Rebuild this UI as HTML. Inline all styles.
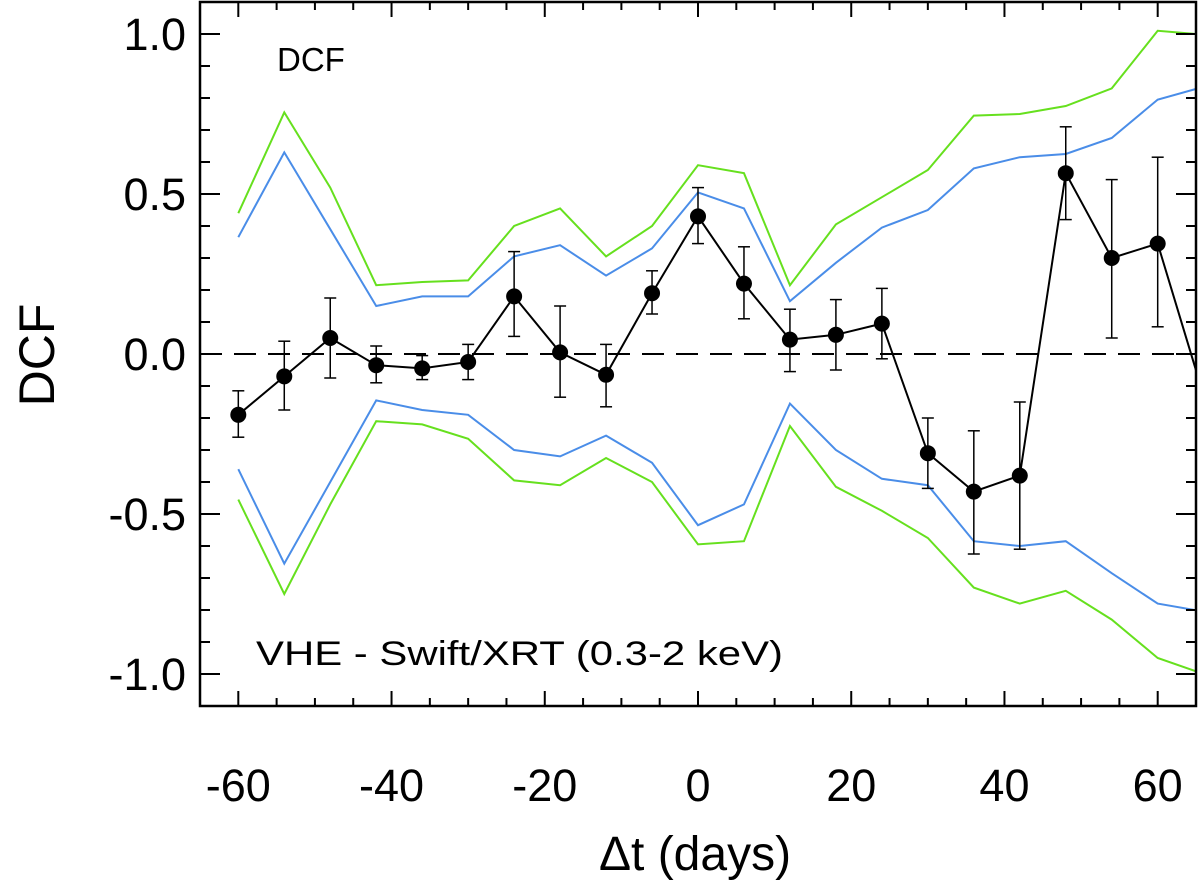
<!DOCTYPE html>
<html><head><meta charset="utf-8"><style>
body{margin:0;background:#fff}
svg text{font-family:"Liberation Sans",Arial,sans-serif;fill:#000}
</style></head><body>
<svg id="chart" width="1200" height="882" viewBox="0 0 1200 882" xmlns="http://www.w3.org/2000/svg"></svg>
<script>
const lags = [-60,-54,-48,-42,-36,-30,-24,-18,-12,-6,0,6,12,18,24,30,36,42,48,54,60,66];
const dcf = [-0.19,-0.07,0.05,-0.035,-0.045,-0.025,0.18,0.005,-0.065,0.19,0.43,0.22,0.045,0.06,0.095,-0.31,-0.43,-0.38,0.565,0.3,0.345,-0.13];
const errHi = [-0.115,0.04,0.175,0.025,-0.005,0.03,0.32,0.15,0.03,0.26,0.52,0.335,0.14,0.17,0.205,-0.2,-0.24,-0.15,0.71,0.545,0.615,-0.13];
const errLo = [-0.26,-0.175,-0.075,-0.09,-0.08,-0.08,0.055,-0.135,-0.165,0.125,0.345,0.11,-0.055,-0.05,-0.015,-0.42,-0.625,-0.61,0.42,0.05,0.085,-0.13];
const greenUp = [0.44,0.755,0.52,0.215,0.225,0.23,0.4,0.455,0.305,0.4,0.59,0.565,0.215,0.405,0.49,0.575,0.745,0.75,0.775,0.83,1.01,0.998];
const blueUp = [0.365,0.63,0.39,0.15,0.18,0.18,0.305,0.34,0.245,0.33,0.505,0.455,0.165,0.285,0.395,0.45,0.58,0.615,0.625,0.675,0.795,0.835];
const blueLo = [-0.36,-0.655,-0.4,-0.145,-0.175,-0.19,-0.3,-0.32,-0.255,-0.34,-0.535,-0.47,-0.155,-0.3,-0.39,-0.41,-0.585,-0.6,-0.585,-0.685,-0.78,-0.805];
const greenLo = [-0.455,-0.75,-0.47,-0.21,-0.22,-0.265,-0.395,-0.41,-0.325,-0.4,-0.595,-0.585,-0.225,-0.415,-0.49,-0.575,-0.73,-0.78,-0.74,-0.83,-0.95,-1.0];
const xTicks = [-60,-40,-20,0,20,40,60];
const yTicks = [-1.0,-0.5,0.0,0.5,1.0];

const L=200,R=1196,T=2,B=706, xmin=-65,xmax=65,ymin=-1.1,ymax=1.1;
const X=v=>L+(v-xmin)/(xmax-xmin)*(R-L);
const Y=v=>B-(v-ymin)/(ymax-ymin)*(B-T);
const svg=document.getElementById('chart');
const NS='http://www.w3.org/2000/svg';
function mk(tag,attrs,parent){const e=document.createElementNS(NS,tag);for(const k in attrs)e.setAttribute(k,attrs[k]);(parent||svg).appendChild(e);return e;}

const defs=mk('defs',{});
const cp=mk('clipPath',{id:'clip'},defs);
mk('rect',{x:L,y:T,width:R-L,height:B-T},cp);
const plot=mk('g',{'clip-path':'url(#clip)'});



const zl=mk('line',{x1:L,x2:R,y1:Y(0),y2:Y(0),stroke:'#000','stroke-width':2,'stroke-dasharray':'22,12'},plot);



function poly(vals,color,name){
  const p=mk('polyline',{points:vals.map((v,i)=>X(lags[i])+','+Y(v)).join(' '),fill:'none',stroke:color,'stroke-width':2},plot);
  
  
}
poly(greenUp,'#66e01e','green-upper-confidence');
poly(blueUp,'#4a8de8','blue-upper-confidence');
poly(blueLo,'#4a8de8','blue-lower-confidence');
poly(greenLo,'#66e01e','green-lower-confidence');
poly(dcf,'#000','dcf-line');

lags.forEach((t,i)=>{
  if(t>xmax) return;
  const x=X(t);
  const g=mk('g',{},plot);
  
  
  mk('line',{x1:x,x2:x,y1:Y(errHi[i]),y2:Y(errLo[i]),stroke:'#000','stroke-width':1.5},g);
  mk('line',{x1:x-6,x2:x+6,y1:Y(errHi[i]),y2:Y(errHi[i]),stroke:'#000','stroke-width':1.5},g);
  mk('line',{x1:x-6,x2:x+6,y1:Y(errLo[i]),y2:Y(errLo[i]),stroke:'#000','stroke-width':1.5},g);
  mk('circle',{cx:x,cy:Y(dcf[i]),r:8,fill:'#000'},g);
});

const ax=mk('g',{});


mk('rect',{x:L,y:T,width:R-L,height:B-T,fill:'none',stroke:'#000','stroke-width':2.5},ax);
for(let v=-65;v<=65;v+=5){
  const x=X(v), major=v%20===0, len=major?15:8;
  mk('line',{x1:x,x2:x,y1:B,y2:B-len,stroke:'#000','stroke-width':2},ax);
  mk('line',{x1:x,x2:x,y1:T,y2:T+len,stroke:'#000','stroke-width':2},ax);
}
for(let k=-11;k<=11;k++){
  const v=k/10, y=Y(v), major=k%5===0, len=major?20:10;
  mk('line',{x1:L,x2:L+len,y1:y,y2:y,stroke:'#000','stroke-width':2},ax);
  mk('line',{x1:R,x2:R-len,y1:y,y2:y,stroke:'#000','stroke-width':2},ax);
}
xTicks.forEach(v=>{
  const t=mk('text',{x:X(v),y:801,'font-size':45,'text-anchor':'middle'});
  t.textContent=String(v);
  
  
});
yTicks.forEach(v=>{
  const t=mk('text',{x:186,y:Y(v)+16,'font-size':45,'text-anchor':'end'});
  t.textContent=v.toFixed(1);
  
  
});
</script>
<svg style="position:absolute;left:0;top:0" width="1200" height="882">
<text x="277" y="71" font-size="33" style="font-family:'Liberation Sans',sans-serif">DCF</text>
<text x="256" y="665" font-size="34" textLength="527" lengthAdjust="spacingAndGlyphs" style="font-family:'Liberation Sans',sans-serif">VHE - Swift/XRT (0.3-2 keV)</text>
<text x="695" y="870" font-size="48" text-anchor="middle" style="font-family:'Liberation Sans',sans-serif">Δt (days)</text>
<text x="0" y="0" font-size="50" text-anchor="middle" transform="translate(54,355) rotate(-90)" style="font-family:'Liberation Sans',sans-serif">DCF</text>
</svg>
</body></html>
